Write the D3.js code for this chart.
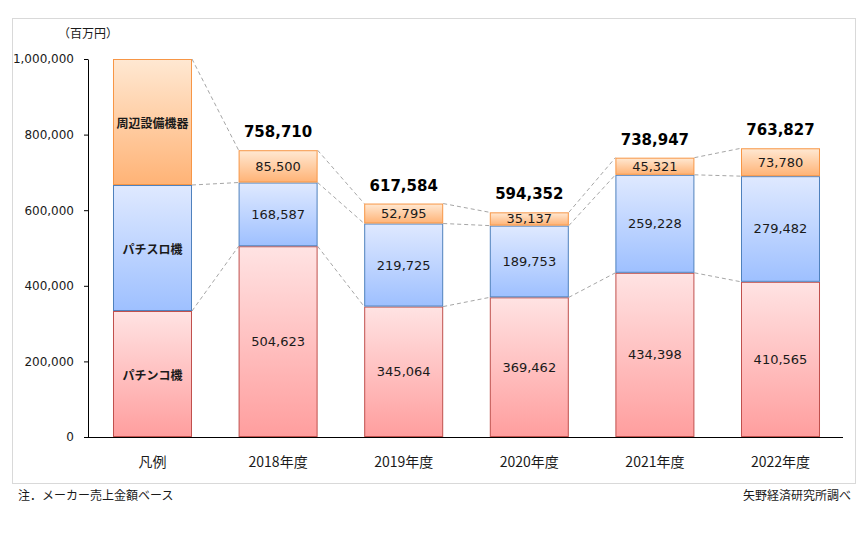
<!DOCTYPE html>
<html><head><meta charset="utf-8">
<script src="https://cdn.jsdelivr.net/npm/d3@7/dist/d3.min.js"></script>
<style>body{margin:0;background:#fff}</style></head>
<body><svg id="c" width="868" height="536"></svg>
<script>
const categories = ["凡例","2018年度","2019年度","2020年度","2021年度","2022年度"];
const seriesNames = ["パチンコ機","パチスロ機","周辺設備機器"];
const pachinko   = [333333, 504623, 345064, 369462, 434398, 410565];
const pachislot  = [333333, 168587, 219725, 189753, 259228, 279482];
const peripheral = [333334,  85500,  52795,  35137,  45321,  73780];
const totals     = [null, 758710, 617584, 594352, 738947, 763827];
const yTicks = [0, 200000, 400000, 600000, 800000, 1000000];

const svg = d3.select("#c");
const num = "'DejaVu Sans', Verdana, sans-serif";
const jp = "'Noto Sans CJK JP', sans-serif";

// outer frame
svg.append("rect").attr("x",12.5).attr("y",18.5).attr("width",843).attr("height",465)
  .attr("fill","#fff").attr("stroke","#d9d9d9");

const x = d3.scaleBand().domain(categories).range([88,845]).paddingInner(0.371).paddingOuter(0.199);
const y = d3.scaleLinear().domain([0,1000000]).range([437,59]);

const defs = svg.append("defs");
const grads = [
  {id:"gP", top:"#ffe3e3", bot:"#ff9e9e", stroke:"#c0504d"},
  {id:"gB", top:"#dfe9ff", bot:"#9ec0ff", stroke:"#4f81bd"},
  {id:"gO", top:"#ffe8d2", bot:"#ffb376", stroke:"#f79646"}
];
grads.forEach(g=>{
  const lg = defs.append("linearGradient").attr("id",g.id).attr("x1",0).attr("y1",0).attr("x2",0).attr("y2",1);
  lg.append("stop").attr("offset","0%").attr("stop-color",g.top);
  lg.append("stop").attr("offset","100%").attr("stop-color",g.bot);
});

const rows = categories.map((c,i)=>({cat:c, vals:[pachinko[i],pachislot[i],peripheral[i]]}));
rows.forEach(r=>{ let acc=0; r.segs = r.vals.map(v=>{const s={y0:acc,y1:acc+v,v}; acc+=v; return s;}); });

// connector dashed lines
for(let i=0;i<rows.length-1;i++){
  for(let k=0;k<3;k++){
    svg.append("line")
      .attr("x1", x(rows[i].cat)+x.bandwidth()).attr("y1", y(rows[i].segs[k].y1))
      .attr("x2", x(rows[i+1].cat)).attr("y2", y(rows[i+1].segs[k].y1))
      .attr("stroke","#a6a6a6").attr("stroke-width",1).attr("stroke-dasharray","4,3");
  }
}

// bars
rows.forEach((r,i)=>{
  r.segs.forEach((s,k)=>{
    svg.append("rect")
      .attr("x", x(r.cat)+0.5).attr("y", y(s.y1)+0.5)
      .attr("width", x.bandwidth()-1).attr("height", y(s.y0)-y(s.y1)-1)
      .attr("fill", `url(#${grads[k].id})`).attr("stroke", grads[k].stroke).attr("stroke-width",1);
    const cy = (y(s.y0)+y(s.y1))/2;
    if(i===0){
      svg.append("text").attr("x", x(r.cat)+x.bandwidth()/2).attr("y", cy)
        .attr("text-anchor","middle").attr("dominant-baseline","central")
        .attr("font-family", jp).attr("font-weight","bold").attr("font-size",12).attr("fill","#1a1a1a")
        .text(seriesNames[k]);
    } else {
      svg.append("text").attr("x", x(r.cat)+x.bandwidth()/2).attr("y", cy)
        .attr("text-anchor","middle").attr("dominant-baseline","central")
        .attr("font-family", num).attr("font-size",13).attr("fill","#1a1a1a")
        .text(d3.format(",")(s.v));
    }
  });
  if(totals[i]!=null){
    svg.append("text").attr("x", x(r.cat)+x.bandwidth()/2).attr("y", y(totals[i])-13)
      .attr("text-anchor","middle").attr("font-family", num).attr("font-weight","bold")
      .attr("font-size",15).attr("fill","#000").text(d3.format(",")(totals[i]));
  }
});

// y axis
const yAxis = d3.axisLeft(y).tickValues(yTicks).tickFormat(d3.format(",")).tickSize(4).tickSizeOuter(0);
const ga = svg.append("g").attr("transform","translate(88,0)").call(yAxis);
ga.select(".domain").attr("stroke","#000");
ga.selectAll(".tick line").attr("stroke","#000");
ga.selectAll("text").attr("font-family",num).attr("font-size",12).attr("fill","#1a1a1a").attr("x",-14);

// x axis
const xAxis = d3.axisBottom(x).tickSize(0).tickSizeOuter(0);
const gx = svg.append("g").attr("transform","translate(0,437)").call(xAxis);
gx.select(".domain").attr("stroke","#000").attr("d","M88,0.5H843");
gx.selectAll("text").attr("font-family",jp).attr("font-size",14).attr("fill","#1a1a1a").attr("dy",0).attr("y",30);

// unit label
svg.append("text").attr("x",58).attr("y",38).attr("font-family",jp).attr("font-size",12).attr("fill","#1a1a1a").text("（百万円）");

// notes
svg.append("text").attr("x",18).attr("y",500).attr("font-family",jp).attr("font-size",12).attr("fill","#1a1a1a").text("注．メーカー売上金額ベース");
svg.append("text").attr("x",851).attr("y",500).attr("text-anchor","end").attr("font-family",jp).attr("font-size",12).attr("fill","#1a1a1a").text("矢野経済研究所調べ");
</script></body></html>
